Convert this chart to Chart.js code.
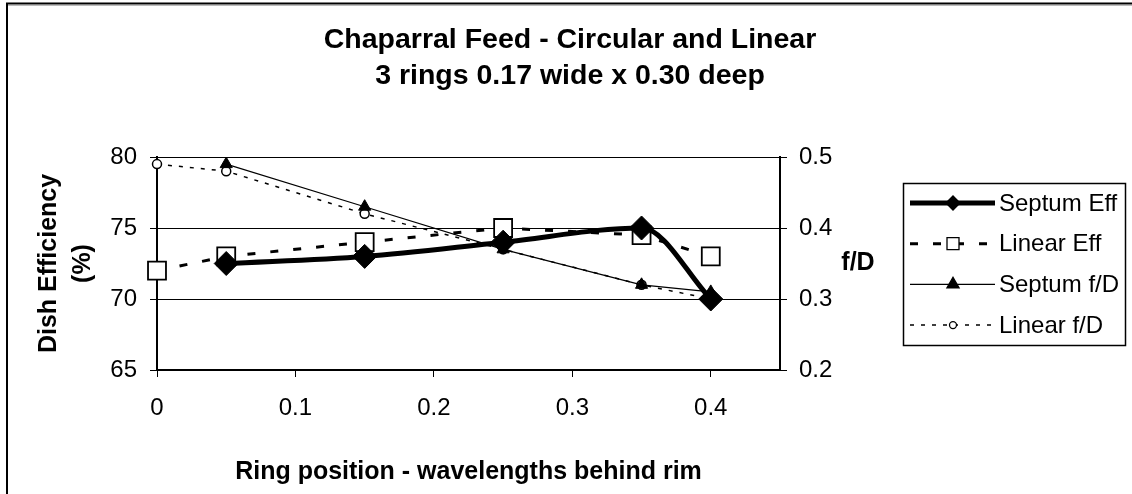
<!DOCTYPE html>
<html>
<head>
<meta charset="utf-8">
<title>Chaparral Feed - Circular and Linear</title>
<script src="https://cdn.jsdelivr.net/npm/chart.js@4.4.1/dist/chart.umd.min.js"></script>
<style>
  html, body { margin: 0; padding: 0; background: #fff; }
  #wrap { width: 1132px; height: 494px; }
</style>
</head>
<body>
<div id="wrap"><canvas id="feedChart" width="1132" height="494"></canvas></div>
<script>
// feed comparison: efficiency (left axis) and best f/D (right axis) vs ring position

const TITLE_LINES = ['Chaparral Feed - Circular and Linear', '3 rings 0.17 wide x 0.30 deep'];
const X_TITLE = 'Ring position - wavelengths behind rim';
const EFF_TITLE = ['Dish Efficiency', '(%)'];
const FD_TITLE = 'f/D';

// ring positions (wavelengths behind rim)
const SEPTUM_POS = [0.05, 0.15, 0.25, 0.35, 0.40];
const LINEAR_POS = [0, 0.05, 0.15, 0.25, 0.35, 0.40];

// efficiency %
const SEPTUM_EFF = [72.5, 73, 74, 75, 70];
const LINEAR_EFF = [72, 73, 74, 75, 74.5, 73];

// f/D
const SEPTUM_FD = [0.49, 0.43, 0.37, 0.32, 0.31];
const LINEAR_FD = [0.49, 0.48, 0.42, 0.37, 0.32, 0.30];

// axis ranges / tick steps
const X_MIN = 0, X_MAX = 0.45, X_STEP = 0.1;
const EFF_MIN = 65, EFF_MAX = 80, EFF_STEP = 5;
const FD_MIN = 0.2, FD_MAX = 0.5, FD_STEP = 0.1;

const FONT = '"Liberation Sans", Arial, Helvetica, sans-serif';
Chart.defaults.font.family = FONT;
Chart.defaults.color = '#000';

function pts(xs, ys){
  return xs.map((x, i) => ({ x: x, y: ys[i] }));
}

// --- marker drawing for the legend ---
function drawMarker(ctx, style, x, y, r, fill){
  ctx.beginPath();
  if(style === 'rectRot'){
    ctx.moveTo(x - r, y); ctx.lineTo(x, y - r); ctx.lineTo(x + r, y); ctx.lineTo(x, y + r);
  } else if(style === 'rect'){
    ctx.rect(x - r, y - r, 2 * r, 2 * r);
  } else if(style === 'triangle'){
    ctx.moveTo(x, y - r); ctx.lineTo(x + r * 0.866, y + r * 0.5); ctx.lineTo(x - r * 0.866, y + r * 0.5);
  } else {
    ctx.arc(x, y, r, 0, Math.PI * 2);
  }
  ctx.closePath();
  ctx.fillStyle = fill;
  ctx.fill();
  ctx.lineWidth = 1.3;
  ctx.setLineDash([]);
  ctx.strokeStyle = '#000';
  ctx.stroke();
}

// chart-area frame (top + left edges)
const framePlugin = {
  id: 'frame',
  beforeDraw(chart){
    const ctx = chart.ctx;
    ctx.save();
    ctx.strokeStyle = '#bbb';
    ctx.lineWidth = 1;
    ctx.beginPath(); ctx.moveTo(8, 5.5); ctx.lineTo(chart.width, 5.5); ctx.stroke();
    ctx.strokeStyle = '#000';
    ctx.lineWidth = 2;
    ctx.beginPath();
    ctx.moveTo(7, chart.height); ctx.lineTo(7, 3.5); ctx.lineTo(chart.width, 3.5);
    ctx.stroke();
    ctx.restore();
  }
};

// two-line title, centred on the whole canvas
const titlePlugin = {
  id: 'twoLineTitle',
  afterDraw(chart){
    const ctx = chart.ctx;
    ctx.save();
    ctx.font = 'bold 28.5px ' + FONT;
    ctx.fillStyle = '#000';
    ctx.textAlign = 'center';
    ctx.textBaseline = 'alphabetic';
    TITLE_LINES.forEach((t, i) => {
      ctx.fillText(t, chart.width / 2 + 4, 48 + i * 36);
    });
    ctx.restore();
  }
};

// horizontal "f/D" next to the right axis
const fdLabelPlugin = {
  id: 'fdLabel',
  afterDraw(chart){
    const ctx = chart.ctx, a = chart.chartArea;
    ctx.save();
    ctx.font = 'bold 25px ' + FONT;
    ctx.fillStyle = '#000';
    ctx.textAlign = 'center';
    ctx.textBaseline = 'middle';
    ctx.fillText(FD_TITLE, a.right + 78, (a.top + a.bottom) / 2);
    ctx.restore();
  }
};

// boxed legend with line + marker samples
const LEGEND_MARK = { rectRot: 7, rect: 6, triangle: 7, circle: 3.5 };
const legendPlugin = {
  id: 'boxLegend',
  afterDraw(chart){
    const ctx = chart.ctx, a = chart.chartArea;
    const left = a.right + 123, top = a.top + 26, w = 222, h = 162;
    ctx.save();
    ctx.strokeStyle = '#000';
    ctx.lineWidth = 1.5;
    ctx.strokeRect(left + 0.5, top + 0.5, w, h);
    chart.data.datasets.forEach((ds, i) => {
      const y = top + 20 + i * 40.7;
      ctx.beginPath();
      ctx.setLineDash(ds.borderDash || []);
      ctx.lineWidth = ds.borderWidth;
      ctx.strokeStyle = ds.borderColor;
      ctx.moveTo(left + 7, y); ctx.lineTo(left + 92, y);
      ctx.stroke();
      drawMarker(ctx, ds.pointStyle, left + 50, y, LEGEND_MARK[ds.pointStyle], ds.pointBackgroundColor);
      ctx.font = '24px ' + FONT;
      ctx.fillStyle = '#000';
      ctx.textAlign = 'left';
      ctx.textBaseline = 'middle';
      ctx.fillText(ds.label, left + 96, y + 1);
    });
    ctx.restore();
  }
};

const ctx = document.getElementById('feedChart').getContext('2d');
new Chart(ctx, {
  type: 'line',
  data: {
    datasets: [
      {
        label: 'Septum Eff',
        data: pts(SEPTUM_POS, SEPTUM_EFF),
        yAxisID: 'yEff',
        borderColor: '#000',
        borderWidth: 5,
        borderJoinStyle: 'round',
        cubicInterpolationMode: 'monotone',
        pointStyle: 'rectRot',
        pointRadius: 12,
        pointBackgroundColor: '#000',
        pointBorderColor: '#000',
        pointBorderWidth: 1,
        clip: false
      },
      {
        label: 'Linear Eff',
        data: pts(LINEAR_POS, LINEAR_EFF),
        yAxisID: 'yEff',
        borderColor: '#000',
        borderWidth: 3,
        borderDash: [8, 15],
        tension: 0,
        pointStyle: 'rect',
        pointRadius: 12.7,
        pointBackgroundColor: '#fff',
        pointBorderColor: '#000',
        pointBorderWidth: 1.8,
        clip: false
      },
      {
        label: 'Septum f/D',
        data: pts(SEPTUM_POS, SEPTUM_FD),
        yAxisID: 'yFd',
        borderColor: '#000',
        borderWidth: 1.2,
        tension: 0,
        pointStyle: 'triangle',
        pointRadius: 7,
        pointBackgroundColor: '#000',
        pointBorderColor: '#000',
        pointBorderWidth: 1,
        clip: false
      },
      {
        label: 'Linear f/D',
        data: pts(LINEAR_POS, LINEAR_FD),
        yAxisID: 'yFd',
        borderColor: '#000',
        borderWidth: 1.5,
        borderDash: [4, 7],
        tension: 0,
        pointStyle: 'circle',
        pointRadius: 4.5,
        pointBackgroundColor: '#fff',
        pointBorderColor: '#000',
        pointBorderWidth: 1.5,
        clip: false
      }
    ]
  },
  options: {
    responsive: false,
    animation: false,
    devicePixelRatio: 1,
    layout: { padding: { left: 0, right: 252, top: 157, bottom: 0 } },
    plugins: {
      legend: { display: false },
      tooltip: { enabled: false },
      title: { display: false }
    },
    scales: {
      x: {
        type: 'linear',
        position: 'bottom',
        min: X_MIN,
        max: X_MAX,
        ticks: { stepSize: X_STEP, includeBounds: false, font: { size: 24 }, color: '#000', padding: 17, maxRotation: 0 },
        grid: { drawOnChartArea: false, drawTicks: true, tickLength: 7, color: '#000', lineWidth: 1 },
        border: { display: true, color: '#000', width: 2 },
        title: { display: true, text: X_TITLE, color: '#000', font: { size: 25, weight: 'bold', lineHeight: 1.2 }, padding: { top: 0, bottom: 7 } },
        afterFit(s){ s.height = 124; }
      },
      yEff: {
        type: 'linear',
        position: 'left',
        min: EFF_MIN,
        max: EFF_MAX,
        ticks: { stepSize: EFF_STEP, font: { size: 24 }, color: '#000', padding: 13 },
        grid: { color: '#000', lineWidth: 1, tickLength: 7 },
        border: { display: true, color: '#000', width: 2 },
        title: { display: true, text: EFF_TITLE, color: '#000', font: { size: 25, weight: 'bold', lineHeight: 1.35 }, padding: { top: 32, bottom: 0 } },
        afterFit(s){ s.width = 157; }
      },
      yFd: {
        type: 'linear',
        position: 'right',
        min: FD_MIN,
        max: FD_MAX,
        ticks: { stepSize: FD_STEP, font: { size: 24 }, color: '#000', padding: 12 },
        grid: { drawOnChartArea: false, tickLength: 7, color: '#000', lineWidth: 1 },
        border: { display: true, color: '#000', width: 2 },
        afterFit(s){ s.width = 100; }
      }
    }
  },
  plugins: [framePlugin, titlePlugin, fdLabelPlugin, legendPlugin]
});
</script>
</body>
</html>
